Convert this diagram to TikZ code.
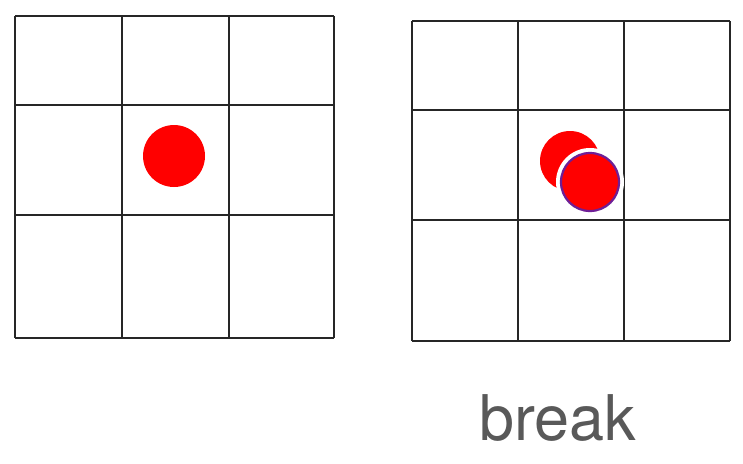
\documentclass[tikz,border=0pt]{standalone}
\usepackage{fontspec}
\setmainfont{TeX Gyre Heros}
\begin{document}
\begin{tikzpicture}[x=1pt,y=-1pt,
  gridline/.style={line width=2pt,draw=black!85},
  ball/.style={fill=red},
  label/.style={text=black!65,font=\fontsize{63}{70}\selectfont,inner sep=0pt,anchor=base}]
\useasboundingbox[fill=white] (0,0) rectangle (743,463);
% left grid
\foreach \x in {15,122,229,334} \draw[gridline] (\x,16) -- (\x,338);
\foreach \y in {16,105,215,338} \draw[gridline] (15,\y) -- (334,\y);
\node[ball,circle,minimum size=62pt,inner sep=0pt] (b1) at (174,156) {};
% right grid
\foreach \x in {412,518,624,730} \draw[gridline] (\x,21) -- (\x,341);
\foreach \y in {21,110,220,341} \draw[gridline] (412,\y) -- (730,\y);
\node[ball,circle,minimum size=60pt,inner sep=0pt] (b2) at (570,161) {};
\node[circle,fill=white,minimum size=68pt,inner sep=0pt] (b3w) at (590,182) {};
\node[ball,circle,draw={rgb,255:red,110;green,30;blue,150},line width=2.2pt,minimum size=58pt,inner sep=0pt] (b3) at (590,182) {};
\node[label] (t) at (558,440) {break};
\end{tikzpicture}
\end{document}
